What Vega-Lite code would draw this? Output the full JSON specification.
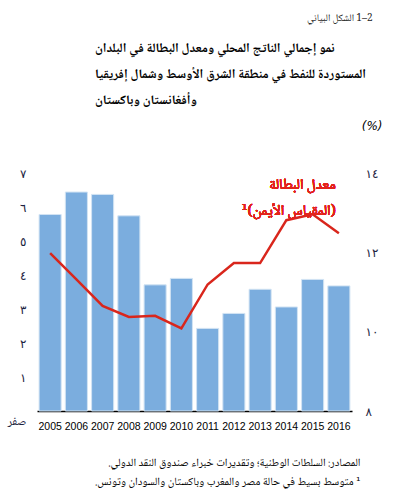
{
  "$schema": "https://vega.github.io/schema/vega-lite/v6.json",
  "width": 315,
  "height": 238,
  "autosize": "none",
  "padding": {"left": 37, "top": 173, "right": 46, "bottom": 90},
  "background": "white",
  "config": {"view": {"stroke": null}, "font": "DejaVu Sans"},
  "title": {
    "text": ["نمو إجمالي الناتج المحلي ومعدل البطالة في البلدان", "المستوردة للنفط في منطقة الشرق الأوسط وشمال إفريقيا", "وأفغانستان وباكستان"],
    "anchor": "start",
    "frame": "group",
    "align": "left",
    "dx": 58,
    "offset": -95,
    "fontSize": 13,
    "fontWeight": "bold",
    "font": "Noto Naskh Arabic, Noto Sans Arabic, DejaVu Sans Condensed",
    "lineHeight": 26,
    "color": "black"
  },
  "data": {
    "values": [
      {"year": "2005", "gdp": 5.78, "unemp": 11.98},
      {"year": "2006", "gdp": 6.44, "unemp": 11.32},
      {"year": "2007", "gdp": 6.37, "unemp": 10.65},
      {"year": "2008", "gdp": 5.74, "unemp": 10.37},
      {"year": "2009", "gdp": 3.71, "unemp": 10.4},
      {"year": "2010", "gdp": 3.9, "unemp": 10.08},
      {"year": "2011", "gdp": 2.43, "unemp": 11.19},
      {"year": "2012", "gdp": 2.87, "unemp": 11.73},
      {"year": "2013", "gdp": 3.58, "unemp": 11.73},
      {"year": "2014", "gdp": 3.06, "unemp": 12.81},
      {"year": "2015", "gdp": 3.87, "unemp": 12.96},
      {"year": "2016", "gdp": 3.68, "unemp": 12.48}
    ]
  },
  "resolve": {"scale": {"y": "independent"}, "axis": {"y": "independent"}},
  "layer": [
    {
      "mark": {"type": "bar", "color": "#7badde", "stroke": "#d2e3f3", "strokeWidth": 1},
      "encoding": {
        "x": {
          "field": "year", "type": "nominal",
          "scale": {"paddingInner": 0.16, "paddingOuter": 0.08},
          "axis": {
            "labelAngle": 0, "labelFontSize": 10.5, "labelFont": "Liberation Sans", "labelColor": "black", "labelPadding": 10,
            "ticks": false, "domainColor": "black", "domainWidth": 1.5,
            "title": ["‫المصادر: السلطات الوطنية؛ وتقديرات خبراء صندوق النقد الدولي.‬", "‫¹ متوسط بسيط في حالة مصر والمغرب وباكستان والسودان وتونس.‬"],
            "titleAlign": "right", "titleAnchor": null, "titleBaseline": "top",
            "titleX": 323, "titleY": 45, "titleFontSize": 11.2, "titleFont": "Noto Naskh Arabic, DejaVu Sans",
            "titleFontWeight": "normal", "titleLineHeight": 19, "titleColor": "black"
          }
        },
        "y": {
          "field": "gdp", "type": "quantitative",
          "scale": {"domain": [0, 7], "nice": false},
          "axis": {
            "orient": "left", "values": [0, 1, 2, 3, 4, 5, 6, 7], "grid": false, "ticks": false, "domain": false,
            "labelExpr": "datum.value == 0 ? 'صفر' : ['٠','١','٢','٣','٤','٥','٦','٧'][datum.value]",
            "labelFontSize": 12,
            "labelFont": {"condition": {"test": "datum.value == 0", "value": "Noto Naskh Arabic"}, "value": "DejaVu Sans"},
            "labelColor": "#1c2340", "labelPadding": 11,
            "labelOffset": {"condition": {"test": "datum.value == 0", "value": 9}, "value": 0},
            "title": "الشكل البياني ‎1–2",
            "titleAngle": 0, "titleAlign": "right", "titleBaseline": "middle",
            "titleX": 335, "titleY": -156, "titleFontSize": 10, "titleFont": "Noto Naskh Arabic, DejaVu Sans",
            "titleFontWeight": "normal", "titleColor": "#222"
          }
        }
      }
    },
    {
      "layer": [
        {
          "mark": {"type": "line", "color": "#d9261c", "strokeWidth": 2.5},
          "encoding": {
            "x": {"field": "year", "type": "nominal"},
            "y": {
              "field": "unemp", "type": "quantitative",
              "scale": {"domain": [8, 14], "nice": false, "zero": false},
              "axis": {
                "orient": "right", "values": [8, 9, 10, 11, 12, 13, 14], "grid": false, "ticks": false, "domain": false,
                "labelExpr": "['٨','٩','١٠','١١','١٢','١٣','١٤'][datum.value - 8]",
                "labelFontSize": 12, "labelColor": "#1c2340", "labelPadding": 13, "labelAlign": "left",
                "title": "(%)", "titleAngle": 0, "titleAlign": "right", "titleBaseline": "middle",
                "titleX": 30, "titleY": -48, "titleFontSize": 12, "titleFontStyle": "italic",
                "titleFontWeight": "normal", "titleColor": "black"
              }
            }
          }
        },
        {
          "mark": {"type": "text", "text": "معدل البطالة", "align": "right", "baseline": "middle", "dx": -3, "fontSize": 15, "font": "Noto Naskh Arabic, DejaVu Sans", "color": "#e3221b"},
          "encoding": {
            "x": {"datum": "2016", "type": "nominal"},
            "y": {"datum": 13.72, "type": "quantitative"}
          }
        },
        {
          "mark": {"type": "text", "text": "‫(المقياس الأيمن)¹‬", "align": "right", "baseline": "middle", "dx": -3, "fontSize": 15, "font": "Noto Naskh Arabic, DejaVu Sans", "color": "#e3221b"},
          "encoding": {
            "x": {"datum": "2016", "type": "nominal"},
            "y": {"datum": 13.07, "type": "quantitative"}
          }
        }
      ]
    }
  ]
}
